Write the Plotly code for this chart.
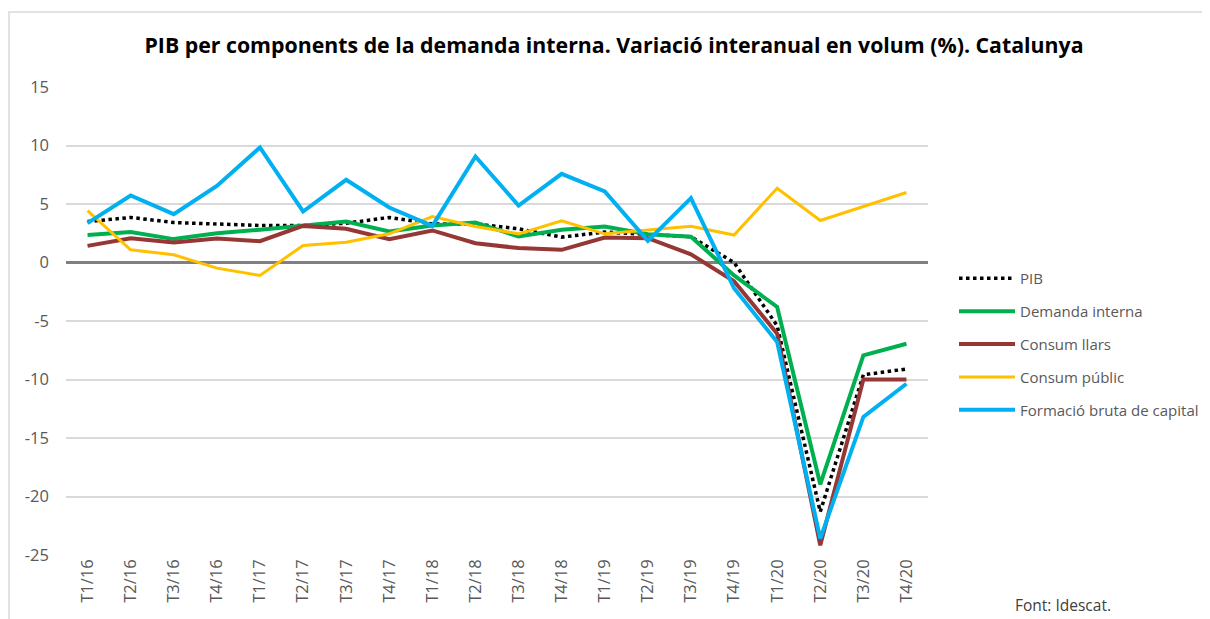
import plotly.graph_objects as go

categories = ["T1/16", "T2/16", "T3/16", "T4/16", "T1/17", "T2/17", "T3/17", "T4/17",
              "T1/18", "T2/18", "T3/18", "T4/18", "T1/19", "T2/19", "T3/19", "T4/19",
              "T1/20", "T2/20", "T3/20", "T4/20"]

pib = [3.5, 3.85, 3.42, 3.3, 3.16, 3.16, 3.36, 3.85, 3.3, 3.3, 2.88, 2.17,
       2.6, 2.4, 2.2, 0.0, -5.4, -21.3, -9.6, -9.1]
demanda_interna = [2.36, 2.6, 2.0, 2.5, 2.8, 3.16, 3.5, 2.65, 3.16, 3.42, 2.22, 2.79,
                   3.08, 2.42, 2.2, -1.1, -3.8, -18.96, -7.93, -6.94]
consum_llars = [1.42, 2.08, 1.71, 2.05, 1.82, 3.13, 2.88, 2.0, 2.74, 1.65, 1.23, 1.08,
                2.14, 2.08, 0.7, -1.6, -6.08, -24.17, -10.0, -10.0]
consum_public = [4.44, 1.08, 0.66, -0.48, -1.11, 1.45, 1.74, 2.45, 3.93, 3.08, 2.45, 3.56,
                 2.45, 2.75, 3.1, 2.35, 6.35, 3.59, 4.8, 5.98]
fbc = [3.36, 5.73, 4.13, 6.55, 9.83, 4.36, 7.07, 4.7, 3.13, 9.06, 4.87, 7.58,
       6.07, 1.85, 5.5, -2.2, -6.8, -23.6, -13.2, -10.36]

y_ticks = [15, 10, 5, 0, -5, -10, -15, -20, -25]
y_tick_labels = ["15", "10", "5", "0", "-5", "-10", "-15", "-20", "-25"]

FONT = "Open Sans"
GREY = "#595959"

series = [
    ("PIB", pib, "#000000", 3.5, "dot"),
    ("Demanda interna", demanda_interna, "#00B050", 4, "solid"),
    ("Consum llars", consum_llars, "#953735", 4, "solid"),
    ("Consum públic", consum_public, "#FFC000", 3, "solid"),
    ("Formació bruta de capital", fbc, "#00B0F0", 4, "solid"),
]

# page offset of the figure (browser body margin)
OFF = 8
W, H = 1210 - OFF, 619 - OFF
PL, PR, PT, PB = 66, 928, 87, 555  # plot area in page pixels


def px_x(x):
    return (x - PL) / (PR - PL)


def px_y(y):
    return (PB - y) / (PB - PT)


fig = go.Figure()
for name, vals, color, w, dash in series:
    fig.add_trace(go.Scatter(
        x=categories, y=vals, name=name, mode="lines", legendgroup=name,
        line=dict(color=color, width=w, dash=dash),
    ))

fig.update_layout(
    width=W, height=H,
    margin=dict(l=PL - OFF, r=W - (PR - OFF), t=PT - OFF, b=H - (PB - OFF),
                autoexpand=False),
    paper_bgcolor="white", plot_bgcolor="white",
    font=dict(family=FONT, color=GREY),
    title=dict(
        text="<b>PIB per components de la demanda interna. Variació interanual en volum (%). Catalunya</b>",
        x=(614 - OFF) / W, xanchor="center", xref="container",
        y=1 - (46 - OFF) / H, yanchor="middle", yref="container",
        font=dict(family=FONT, size=21.3, color="#000000"),
    ),
    xaxis=dict(
        type="category", tickangle=-90, showgrid=False, zeroline=False,
        showline=False, ticks="", tickfont=dict(size=16.5, color=GREY),
        range=[-0.5, len(categories) - 0.5], automargin=False,
    ),
    yaxis=dict(
        range=[-25, 15], tickvals=y_ticks, ticktext=y_tick_labels,
        showgrid=True, gridcolor="#D9D9D9",
        gridwidth=1.5, zeroline=True, zerolinecolor="#808080", zerolinewidth=2.5,
        showline=False, ticks="", tickfont=dict(size=16.5, color=GREY),
        ticklabelstandoff=16, automargin=False,
    ),
    legend=dict(
        x=px_x(954), xanchor="left", y=px_y(262), yanchor="top",
        font=dict(size=15, color=GREY), bgcolor="rgba(0,0,0,0)",
        tracegroupgap=10.4, traceorder="grouped", itemwidth=56,
    ),
    showlegend=True,
    annotations=[dict(
        text="Font: Idescat.", x=px_x(1013), y=px_y(605),
        xref="paper", yref="paper", xanchor="left", yanchor="middle",
        showarrow=False, font=dict(size=15.5, color="#404040", family=FONT),
    )],
    shapes=[dict(
        type="rect", xref="paper", yref="paper",
        x0=px_x(9), x1=px_x(1230),
        y0=px_y(640), y1=px_y(12),
        line=dict(color="#D9D9D9", width=1.5), fillcolor="rgba(0,0,0,0)", layer="below",
    )],
)

fig.write_html("out.html")
